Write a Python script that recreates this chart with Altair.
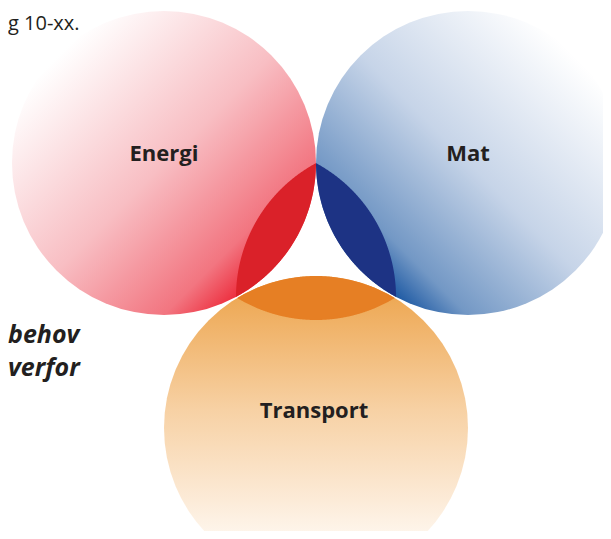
import numpy as np
import pandas as pd
import altair as alt

# ---------------- data ----------------
circle_names = ["Energi", "Mat", "Transport"]
circle_cx = [164, 468, 316]
circle_cy = [163, 163, 428]
circle_r = [152, 152, 152]

# overlap lenses: each is a main circle intersected with a companion circle
lens_names = ["Energi-lins", "Mat-lins", "Transport-lins"]
lens_main = [0, 1, 2]
lens_cx = [388, 244, 316]
lens_cy = [297, 297, 168]
lens_colors = ["#da2129", "#1d3384", "#e67f24"]

label_text = ["Energi", "Mat", "Transport"]
label_x = [164, 468, 314]
label_y = [161, 161, 418]

side_text = ["behov", "verfor"]
side_x = [8, 8]
side_y = [343, 376]

caption_text = ["g 10-xx."]
caption_x = [8]
caption_y = [30]

# ---------------- helpers ----------------
PX_W, PX_H, MARGIN = 611, 539, 8
xs = alt.Scale(domain=[MARGIN, PX_W - MARGIN], nice=False, zero=False)
ys = alt.Scale(domain=[MARGIN, PX_H - MARGIN], nice=False, zero=False, reverse=True)
X = lambda f: alt.X(f, type="quantitative", scale=xs, axis=None)
Y = lambda f: alt.Y(f, type="quantitative", scale=ys, axis=None)


def intersections(ax, ay, bx, by, r):
    dx, dy = bx - ax, by - ay
    d = np.hypot(dx, dy)
    h = np.sqrt(max(r * r - (d / 2) ** 2, 0))
    mx, my = (ax + bx) / 2, (ay + by) / 2
    px, py = -dy / d, dx / d
    return (mx + h * px, my + h * py), (mx - h * px, my - h * py)


def lens_frame(i):
    m = lens_main[i]
    ax, ay, r = circle_cx[m], circle_cy[m], circle_r[m]
    bx, by = lens_cx[i], lens_cy[i]
    p1, p2 = intersections(ax, ay, bx, by, r)
    if abs(bx - ax) >= abs(by - ay):
        t = np.linspace(min(p1[1], p2[1]), max(p1[1], p2[1]), 300)
        sa = np.sqrt(np.clip(r * r - (t - ay) ** 2, 0, None))
        sb = np.sqrt(np.clip(r * r - (t - by) ** 2, 0, None))
        if bx > ax:
            lo, hi = bx - sb, ax + sa
        else:
            lo, hi = ax - sa, bx + sb
        return pd.DataFrame({"y": t, "x": lo, "x2": hi}), "horizontal"
    else:
        t = np.linspace(min(p1[0], p2[0]), max(p1[0], p2[0]), 300)
        sa = np.sqrt(np.clip(r * r - (t - ax) ** 2, 0, None))
        sb = np.sqrt(np.clip(r * r - (t - bx) ** 2, 0, None))
        if by > ay:
            lo, hi = by - sb, ay + sa
        else:
            lo, hi = ay - sa, by + sb
        return pd.DataFrame({"x": t, "y": lo, "y2": hi}), "vertical"


def stops(pairs):
    return [alt.GradientStop(color=c, offset=o) for o, c in pairs]


gradients = [
    alt.LinearGradient(gradient="linear", x1=0, y1=0, x2=1, y2=1,
                       stops=stops([(0.15, "#ffffff"), (0.5, "#f8bec3"),
                                    (0.75, "#f27580"), (0.86, "#ec1f30")])),
    alt.LinearGradient(gradient="linear", x1=1, y1=0, x2=0, y2=1,
                       stops=stops([(0.15, "#ffffff"), (0.5, "#c6d4e8"),
                                    (0.75, "#7398c5"), (0.86, "#0b4c9c")])),
    alt.LinearGradient(gradient="linear", x1=0, y1=0, x2=0, y2=1,
                       stops=stops([(0.0, "#eca146"), (0.44, "#f7d1a4"),
                                    (0.74, "#fcebd8"), (0.92, "#fffcf8")])),
]

circles = pd.DataFrame({"name": circle_names, "cx": circle_cx,
                        "cy": circle_cy, "r": circle_r})

layers = []
for i in range(3):
    d = circles.iloc[[i]]
    diam = 2 * circle_r[i]
    layers.append(
        alt.Chart(d).mark_point(shape="circle", filled=True, size=diam * diam,
                                fill=gradients[i], opacity=1, strokeWidth=0,
                                clip=True)
        .encode(x=X("cx"), y=Y("cy"))
    )

for i in range(3):
    df, orient = lens_frame(i)
    if orient == "horizontal":
        enc = dict(y=Y("y"), x=X("x"), x2="x2")
    else:
        enc = dict(x=X("x"), y=Y("y"), y2="y2")
    layers.append(
        alt.Chart(df).mark_area(orient=orient, color=lens_colors[i], opacity=1)
        .encode(**enc)
    )

labels = pd.DataFrame({"t": label_text, "x": label_x, "y": label_y})
layers.append(
    alt.Chart(labels).mark_text(font="Open Sans", fontSize=22, fontWeight="bold",
                                color="#231f20", align="center", baseline="alphabetic")
    .encode(x=X("x"), y=Y("y"), text="t:N")
)

side = pd.DataFrame({"t": side_text, "x": side_x, "y": side_y})
layers.append(
    alt.Chart(side).mark_text(font="Open Sans", fontSize=25, fontWeight="bold",
                              fontStyle="italic", color="#231f20", align="left",
                              baseline="alphabetic")
    .encode(x=X("x"), y=Y("y"), text="t:N")
)

cap = pd.DataFrame({"t": caption_text, "x": caption_x, "y": caption_y})
layers.append(
    alt.Chart(cap).mark_text(font="Open Sans", fontSize=20, color="#231f20",
                             align="left", baseline="alphabetic")
    .encode(x=X("x"), y=Y("y"), text="t:N")
)

chart = (
    alt.layer(*layers)
    .properties(width=PX_W - 2 * MARGIN, height=PX_H - 2 * MARGIN, padding=0,
                autosize="none", background="white")
    .configure_view(stroke=None)
)

chart.save("out.html", embed_options={"renderer": "svg", "actions": False})
